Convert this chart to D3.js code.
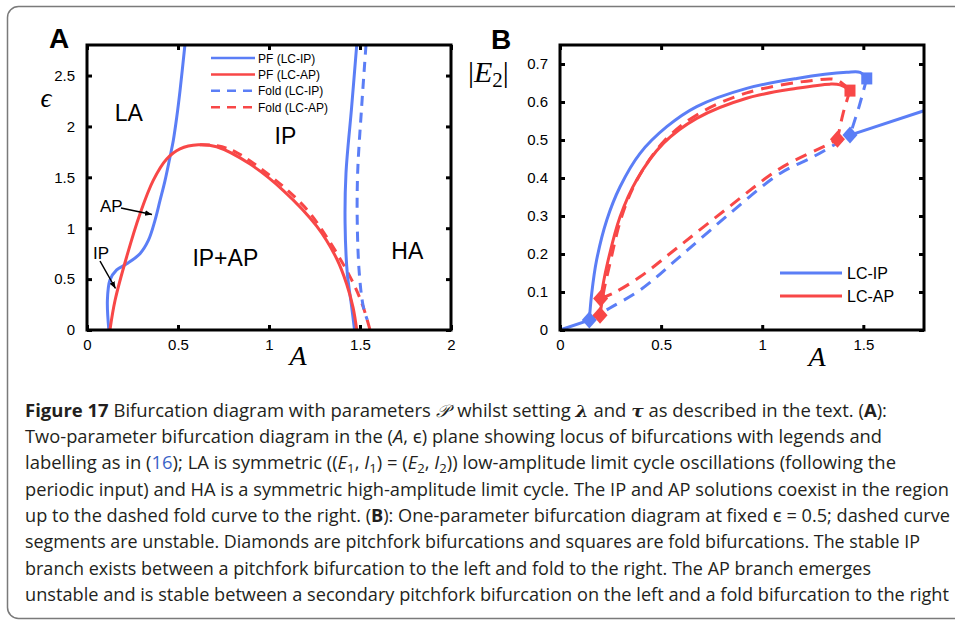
<!DOCTYPE html>
<html>
<head>
<meta charset="utf-8">
<script src="https://cdn.jsdelivr.net/npm/d3@7"></script>
<style>
  body { margin: 0; background: #fff; }
  svg { display: block; }
</style>
</head>
<body>
<svg></svg>
<script>
var width = 955;
var height = 621;
var svg = d3.select("svg")
            .attr("width", width)
            .attr("height", height);

var blue = "#5b7ef6";
var red = "#f84747";

// ---- panel A data: (A, eps) loci ----
var pfIpLeft = [[0.120, 0], [0.112, 0.29], [0.126, 0.49], [0.163, 0.59], [0.218, 0.65], [0.291, 0.75],
                [0.337, 0.88], [0.374, 1.08], [0.401, 1.27], [0.429, 1.47], [0.456, 1.70], [0.474, 1.86],
                [0.493, 2.09], [0.511, 2.35], [0.538, 2.80]];
var pfIpRight = [[1.482, 2.80], [1.454, 2.19], [1.423, 1.54], [1.418, 1.05], [1.430, 0.56], [1.454, 0.23], [1.470, 0]];
var pfAp = [[0.126, 0], [0.154, 0.29], [0.218, 0.72], [0.291, 1.14], [0.364, 1.47], [0.438, 1.68], [0.511, 1.78],
            [0.612, 1.82], [0.712, 1.80], [0.896, 1.63], [1.079, 1.37], [1.262, 1.02], [1.372, 0.70],
            [1.427, 0.45], [1.462, 0.22], [1.482, 0]];
var foldIp = [[1.533, 2.80], [1.509, 2.19], [1.487, 1.54], [1.485, 1.05], [1.496, 0.56], [1.518, 0.23], [1.540, 0.10]];
var foldAp = [[0.62, 1.82], [0.715, 1.81], [0.815, 1.75], [1.010, 1.51], [1.195, 1.21], [1.322, 0.90],
              [1.452, 0.50], [1.515, 0.24], [1.555, 0]];

var aXTicks = [0, 0.5, 1, 1.5, 2];
var aYTicks = [0, 0.5, 1, 1.5, 2, 2.5];
var aLegend = [
  { label: "PF (LC-IP)", color: blue, dash: null },
  { label: "PF (LC-AP)", color: red, dash: null },
  { label: "Fold (LC-IP)", color: blue, dash: "9,7" },
  { label: "Fold (LC-AP)", color: red, dash: "9,7" }
];
var aRegions = [
  { text: "LA", a: 0.23, e: 2.05 },
  { text: "IP", a: 1.09, e: 1.83 },
  { text: "IP+AP", a: 0.76, e: 0.63 },
  { text: "HA", a: 1.76, e: 0.7 }
];

// ---- panel B data: (A, |E2|) at eps = 0.5 ----
var laStable = [[0, 0], [0.145, 0.026]];
var ipStable = [[0.145, 0.026], [0.157, 0.097], [0.181, 0.184], [0.231, 0.289], [0.297, 0.377], [0.396, 0.465],
                [0.528, 0.535], [0.676, 0.588], [0.923, 0.636], [1.171, 0.662], [1.418, 0.678], [1.484, 0.678],
                [1.517, 0.662]];
var ipUnstableTop = [[1.517, 0.662], [1.48, 0.59], [1.434, 0.513]];
var haStable = [[1.434, 0.513], [1.80, 0.577]];
var symUnstable = [[0.145, 0.026], [0.247, 0.058], [0.396, 0.105], [0.593, 0.193], [0.841, 0.307],
                   [1.088, 0.412], [1.253, 0.456], [1.368, 0.491], [1.434, 0.513]];
var apStable = [[0.201, 0.083], [0.231, 0.167], [0.297, 0.298], [0.379, 0.395], [0.511, 0.491], [0.676, 0.557],
                [0.923, 0.610], [1.171, 0.636], [1.335, 0.647], [1.385, 0.645], [1.434, 0.630]];
var apUnstableTop = [[0.198, 0.039], [0.214, 0.095], [0.247, 0.175], [0.306, 0.300], [0.386, 0.400],
                     [0.515, 0.497], [0.676, 0.566], [0.923, 0.624], [1.253, 0.657], [1.368, 0.658], [1.434, 0.630]];
var apUnstableFold = [[1.434, 0.630], [1.40, 0.57], [1.372, 0.502]];
var apUnstableLow = [[0.201, 0.083], [0.264, 0.097], [0.396, 0.140], [0.593, 0.222], [0.841, 0.326],
                     [1.088, 0.425], [1.335, 0.491], [1.372, 0.502]];
var diamonds = [
  { a: 0.145, v: 0.026, color: blue }, { a: 1.434, v: 0.513, color: blue },
  { a: 0.198, v: 0.039, color: red }, { a: 0.201, v: 0.083, color: red }, { a: 1.372, v: 0.502, color: red }
];
var squares = [{ a: 1.517, v: 0.662, color: blue }, { a: 1.434, v: 0.630, color: red }];

var bXTicks = [0, 0.5, 1, 1.5];
var bYTicks = [0, 0.1, 0.2, 0.3, 0.4, 0.5, 0.6, 0.7];
var bLegend = [{ label: "LC-IP", color: blue }, { label: "LC-AP", color: red }];

// ---- caption ----
var captionLines = [
  [["Figure 17", "b"], ["  Bifurcation diagram with parameters "], ["\u{1D4AB}", "s"], ["\u2009 whilst setting "], ["\u03BB", "bi"],
   [" and "], ["\u03C4", "bi"], [" as described in the text. ("], ["A", "b"], ["):"]],
  [["Two-parameter bifurcation diagram in the ("], ["A", "i"], [", \u03F5) plane showing locus of bifurcations with legends and"]],
  [["labelling as in ("], ["16", "link"], ["); LA is symmetric (("], ["E", "i"], ["1", "sub"], [", "], ["I", "i"], ["1", "sub"],
   [") = ("], ["E", "i"], ["2", "sub"], [", "], ["I", "i"], ["2", "sub"], [")) low-amplitude limit cycle oscillations (following the"]],
  [["periodic input) and HA is a symmetric high-amplitude limit cycle. The IP and AP solutions coexist in the region"]],
  [["up to the dashed fold curve to the right. ("], ["B", "b"], ["): One-parameter bifurcation diagram at fixed \u03F5 = 0.5; dashed curve"]],
  [["segments are unstable. Diamonds are pitchfork bifurcations and squares are fold bifurcations. The stable IP"]],
  [["branch exists between a pitchfork bifurcation to the left and fold to the right. The AP branch emerges"]],
  [["unstable and is stable between a secondary pitchfork bifurcation on the left and a fold bifurcation to the right"]]
];
var captionEnds = [887, 882, 896, 949, 950, 920, 871, 949];

// outer frame
svg.append("rect")
   .attr("x", 7.5).attr("y", 6.5)
   .attr("width", 1000).attr("height", 612)
   .attr("rx", 11)
   .attr("fill", "none")
   .attr("stroke", "#7a7a7a")
   .attr("stroke-width", 1.5);

var defs = svg.append("defs");
defs.append("marker")
    .attr("id", "arrow")
    .attr("viewBox", "0 0 10 10")
    .attr("refX", 10).attr("refY", 5)
    .attr("markerWidth", 7).attr("markerHeight", 7)
    .attr("markerUnits", "userSpaceOnUse")
    .attr("orient", "auto")
    .append("path")
    .attr("d", "M0,1 L10,5 L0,9 z")
    .attr("fill", "#000");

function drawFrame(g, x, y, xTicks, yTicks) {
  var fmt = function(d) { return String(d); };
  var x0 = x.range()[0], x1 = x.range()[1], y0 = y.range()[0], y1 = y.range()[1];

  g.append("g").attr("transform", "translate(0," + y0 + ")")
   .call(d3.axisBottom(x).tickValues(xTicks).tickSize(-5).tickPadding(9).tickFormat(fmt));
  g.append("g").attr("transform", "translate(0," + y1 + ")")
   .call(d3.axisTop(x).tickValues(xTicks).tickSize(-5).tickFormat(""));
  g.append("g").attr("transform", "translate(" + x0 + ",0)")
   .call(d3.axisLeft(y).tickValues(yTicks).tickSize(-5).tickPadding(12).tickFormat(fmt));
  g.append("g").attr("transform", "translate(" + x1 + ",0)")
   .call(d3.axisRight(y).tickValues(yTicks).tickSize(-5).tickFormat(""));

  g.selectAll(".domain").remove();
  g.selectAll(".tick line").attr("stroke", "#000").attr("stroke-width", 3);
  g.selectAll(".tick text")
   .attr("font-family", "Liberation Sans, Arial, sans-serif")
   .attr("font-size", 15)
   .attr("fill", "#000");

  g.append("rect")
   .attr("x", x0).attr("y", y1)
   .attr("width", x1 - x0).attr("height", y0 - y1)
   .attr("fill", "none")
   .attr("stroke", "#000")
   .attr("stroke-width", 3);
}

// ================= panel A =================
var xA = d3.scaleLinear().domain([0, 2]).range([87, 451]);
var yA = d3.scaleLinear().domain([0, 2.8]).range([330, 45]);
var lineA = d3.line()
              .x(function(d) { return xA(d[0]); })
              .y(function(d) { return yA(d[1]); })
              .curve(d3.curveCatmullRom.alpha(0.5));

var gA = svg.append("g");
var curvesA = gA.append("g");

curvesA.append("path").datum(foldAp)
       .attr("d", lineA).attr("fill", "none")
       .attr("stroke", red).attr("stroke-width", 3).attr("stroke-dasharray", "10,7");
curvesA.append("path").datum(foldIp)
       .attr("d", lineA).attr("fill", "none")
       .attr("stroke", blue).attr("stroke-width", 3).attr("stroke-dasharray", "10,7");
curvesA.append("path").datum(pfIpLeft)
       .attr("d", lineA).attr("fill", "none")
       .attr("stroke", blue).attr("stroke-width", 3);
curvesA.append("path").datum(pfIpRight)
       .attr("d", lineA).attr("fill", "none")
       .attr("stroke", blue).attr("stroke-width", 3);
curvesA.append("path").datum(pfAp)
       .attr("d", lineA).attr("fill", "none")
       .attr("stroke", red).attr("stroke-width", 3);

drawFrame(gA, xA, yA, aXTicks, aYTicks);

// legend A
var legA = gA.selectAll(".legA")
             .data(aLegend)
             .enter()
             .append("g")
             .attr("class", "legA")
             .attr("transform", function(d, i) { return "translate(211," + (58 + i * 16.4) + ")"; });
legA.append("line")
    .attr("x1", 0).attr("x2", 44)
    .attr("stroke", function(d) { return d.color; })
    .attr("stroke-width", 2.5)
    .attr("stroke-dasharray", function(d) { return d.dash; });
legA.append("text")
    .attr("x", 47).attr("y", 4.5)
    .attr("font-family", "Liberation Sans, Arial, sans-serif")
    .attr("font-size", 12)
    .text(function(d) { return d.label; });

// region labels
gA.selectAll(".region")
  .data(aRegions)
  .enter()
  .append("text")
  .attr("class", "region")
  .attr("x", function(d) { return xA(d.a); })
  .attr("y", function(d) { return yA(d.e); })
  .attr("text-anchor", "middle")
  .attr("font-family", "Liberation Sans, Arial, sans-serif")
  .attr("font-size", 23)
  .text(function(d) { return d.text; });

// AP / IP pointers
gA.append("text").attr("x", 100).attr("y", 212)
  .attr("font-family", "Liberation Sans, Arial, sans-serif").attr("font-size", 17).text("AP");
gA.append("text").attr("x", 93).attr("y", 259)
  .attr("font-family", "Liberation Sans, Arial, sans-serif").attr("font-size", 17).text("IP");
gA.append("line")
  .attr("x1", 121).attr("y1", 208).attr("x2", 152).attr("y2", 214.5)
  .attr("stroke", "#000").attr("stroke-width", 1.5).attr("marker-end", "url(#arrow)");
gA.append("line")
  .attr("x1", 100).attr("y1", 261).attr("x2", 115.5).attr("y2", 288.5)
  .attr("stroke", "#000").attr("stroke-width", 1.5).attr("marker-end", "url(#arrow)");

// axis labels A
gA.append("text").attr("x", 49).attr("y", 48)
  .attr("font-family", "Liberation Sans, Arial, sans-serif").attr("font-weight", "bold")
  .attr("font-size", 28).text("A");
gA.append("text").attr("x", 46).attr("y", 107).attr("text-anchor", "middle")
  .attr("font-family", "Liberation Serif, serif").attr("font-style", "italic")
  .attr("font-size", 27).text("\u03F5");
gA.append("text").attr("x", 298).attr("y", 365).attr("text-anchor", "middle")
  .attr("font-family", "Liberation Serif, serif").attr("font-style", "italic")
  .attr("font-size", 28).text("A");

// ================= panel B =================
var xB = d3.scaleLinear().domain([0, 1.8]).range([560, 924]);
var yB = d3.scaleLinear().domain([0, 0.75]).range([330, 45]);
var lineB = d3.line()
              .x(function(d) { return xB(d[0]); })
              .y(function(d) { return yB(d[1]); })
              .curve(d3.curveCatmullRom.alpha(0.5));

var gB = svg.append("g");
var branches = [
  { pts: symUnstable, color: blue, dash: "12,8" },
  { pts: ipUnstableTop, color: blue, dash: "12,8" },
  { pts: apUnstableLow, color: red, dash: "12,8" },
  { pts: apUnstableTop, color: red, dash: "12,8" },
  { pts: apUnstableFold, color: red, dash: "12,8" },
  { pts: laStable, color: blue, dash: null },
  { pts: haStable, color: blue, dash: null },
  { pts: ipStable, color: blue, dash: null },
  { pts: apStable, color: red, dash: null }
];
gB.selectAll(".branch")
  .data(branches)
  .enter()
  .append("path")
  .attr("class", "branch")
  .attr("d", function(d) { return lineB(d.pts); })
  .attr("fill", "none")
  .attr("stroke", function(d) { return d.color; })
  .attr("stroke-width", 3)
  .attr("stroke-dasharray", function(d) { return d.dash; });

gB.selectAll(".sq")
  .data(squares)
  .enter()
  .append("rect")
  .attr("class", "sq")
  .attr("x", function(d) { return xB(d.a) - 5.5; })
  .attr("y", function(d) { return yB(d.v) - 6; })
  .attr("width", 11).attr("height", 12)
  .attr("fill", function(d) { return d.color; });

gB.selectAll(".dm")
  .data(diamonds)
  .enter()
  .append("path")
  .attr("class", "dm")
  .attr("transform", function(d) { return "translate(" + xB(d.a) + "," + yB(d.v) + ")"; })
  .attr("d", "M0,-8.5 L7.5,0 L0,8.5 L-7.5,0 Z")
  .attr("fill", function(d) { return d.color; });

drawFrame(gB, xB, yB, bXTicks, bYTicks);

var legB = gB.selectAll(".legB")
             .data(bLegend)
             .enter()
             .append("g")
             .attr("class", "legB")
             .attr("transform", function(d, i) { return "translate(780," + (273 + i * 23) + ")"; });
legB.append("line")
    .attr("x1", 0).attr("x2", 62)
    .attr("stroke", function(d) { return d.color; })
    .attr("stroke-width", 3);
legB.append("text")
    .attr("x", 67).attr("y", 6)
    .attr("font-family", "Liberation Sans, Arial, sans-serif")
    .attr("font-size", 16)
    .text(function(d) { return d.label; });

gB.append("text").attr("x", 491).attr("y", 49)
  .attr("font-family", "Liberation Sans, Arial, sans-serif").attr("font-weight", "bold")
  .attr("font-size", 28).text("B");
var yLab = gB.append("text").attr("x", 468).attr("y", 82)
             .attr("font-family", "Liberation Serif, serif").attr("font-size", 30);
yLab.append("tspan").text("|");
yLab.append("tspan").attr("font-style", "italic").text("E");
yLab.append("tspan").attr("font-size", 21).attr("dy", 5).text("2");
yLab.append("tspan").attr("dy", -5).text("|");
gB.append("text").attr("x", 817).attr("y", 366).attr("text-anchor", "middle")
  .attr("font-family", "Liberation Serif, serif").attr("font-style", "italic")
  .attr("font-size", 28).text("A");

// ================= caption =================
var cap = svg.append("g")
             .attr("font-family", "Open Sans, Noto Sans, sans-serif")
             .attr("font-size", 17.5)
             .attr("fill", "#231f20");

captionLines.forEach(function(line, i) {
  var t = cap.append("text")
             .attr("x", 25)
             .attr("y", 416.7 + i * 26.3)
             .attr("textLength", captionEnds[i] - 25)
             .attr("lengthAdjust", "spacingAndGlyphs");
  var shifted = false;
  line.forEach(function(seg) {
    var s = t.append("tspan").text(seg[0]);
    var st = seg[1];
    if (shifted && st !== "sub") { s.attr("dy", -4); shifted = false; }
    if (st === "b") s.attr("font-weight", "bold");
    if (st === "i") s.attr("font-style", "italic");
    if (st === "bi") s.attr("font-weight", "bold").attr("font-style", "italic")
                      .attr("font-family", "DejaVu Serif, serif");
    if (st === "s") s.attr("font-family", "DejaVu Serif, serif").attr("font-style", "italic");
    if (st === "link") s.attr("fill", "#3a64c8");
    if (st === "sub") { s.attr("font-size", 12.5); if (!shifted) { s.attr("dy", 4); shifted = true; } }
  });
});
</script>
</body>
</html>
